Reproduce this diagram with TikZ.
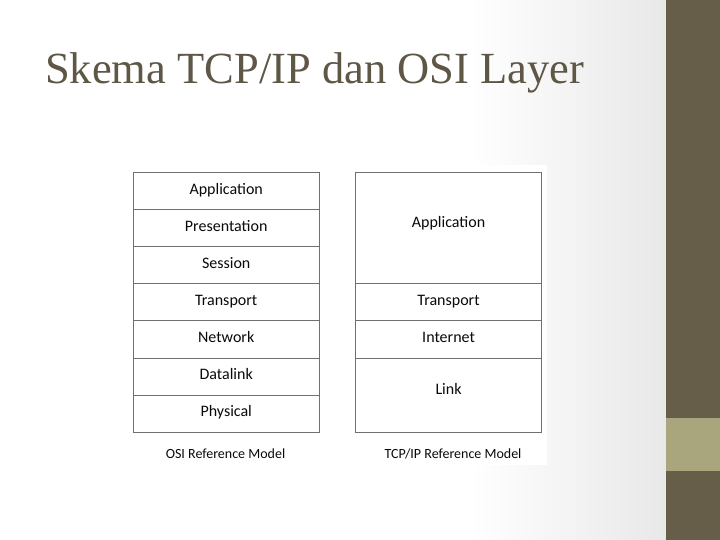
\documentclass[tikz,border=0pt]{standalone}
\usepackage{fontspec}
\setmainfont{Carlito}
\newfontfamily\titlefont{Liberation Serif}
\definecolor{olive}{HTML}{665E48}
\definecolor{lightolive}{HTML}{A9A67E}
\definecolor{titlecol}{HTML}{5E5746}
\definecolor{edgegray}{HTML}{E8E8E8}
\definecolor{boxline}{HTML}{707070}
\definecolor{txt}{HTML}{0A0A0A}
\begin{document}
\begin{tikzpicture}[x=1pt,y=-1pt,
  layer/.style={draw=boxline,line width=1pt,fill=white,anchor=north west,
    minimum width=186pt,inner sep=0pt,font=\fontsize{16}{18}\selectfont,text=txt,
    text height=11pt,text depth=5pt},
  caption/.style={font=\fontsize{14}{16}\selectfont,text=txt}]
\useasboundingbox (0,0) rectangle (720,540);
% background
\fill[white] (0,0) rectangle (470,540);
\shade[left color=white,right color=edgegray] (470,0) rectangle (666,540);
\fill[olive] (666,0) rectangle (720,540);
\fill[lightolive] (666,418) rectangle (720,471);
% title
\node[anchor=base west,text=titlecol,font=\titlefont\fontsize{44.5}{50}\selectfont,inner sep=0pt] (title) at (45,84) {Skema TCP/IP dan OSI Layer};
% picture area
\fill[white] (127,165) rectangle (547,465);
% OSI
\node[layer,minimum height=37.1pt] (app) at (132.7,172) {Application};
\node[layer,minimum height=37.1pt] (pres) at (132.7,209.1) {Presentation};
\node[layer,minimum height=37.1pt] (sess) at (132.7,246.2) {Session};
\node[layer,minimum height=37.1pt] (trans) at (132.7,283.3) {Transport};
\node[layer,minimum height=37.1pt] (net) at (132.7,320.4) {Network};
\node[layer,minimum height=37.1pt] (dl) at (132.7,357.5) {Datalink};
\node[layer,minimum height=37.1pt] (phys) at (132.7,394.6) {Physical};
% TCP/IP
\node[layer,minimum width=185.5pt,minimum height=111.3pt,text depth=13pt] (tapp) at (355.3,172) {Application};
\node[layer,minimum width=185.5pt,minimum height=37.1pt] (ttrans) at (355.3,283.3) {Transport};
\node[layer,minimum width=185.5pt,minimum height=37.1pt] (tnet) at (355.3,320.4) {Internet};
\node[layer,minimum width=185.5pt,minimum height=74.2pt,text depth=13pt] (tlink) at (355.3,357.5) {Link};
% captions
\node[caption] (osicap) at (225.5,454) {OSI Reference Model};
\node[caption] (tcpcap) at (453,454) {TCP/IP Reference Model};
\end{tikzpicture}
\end{document}
